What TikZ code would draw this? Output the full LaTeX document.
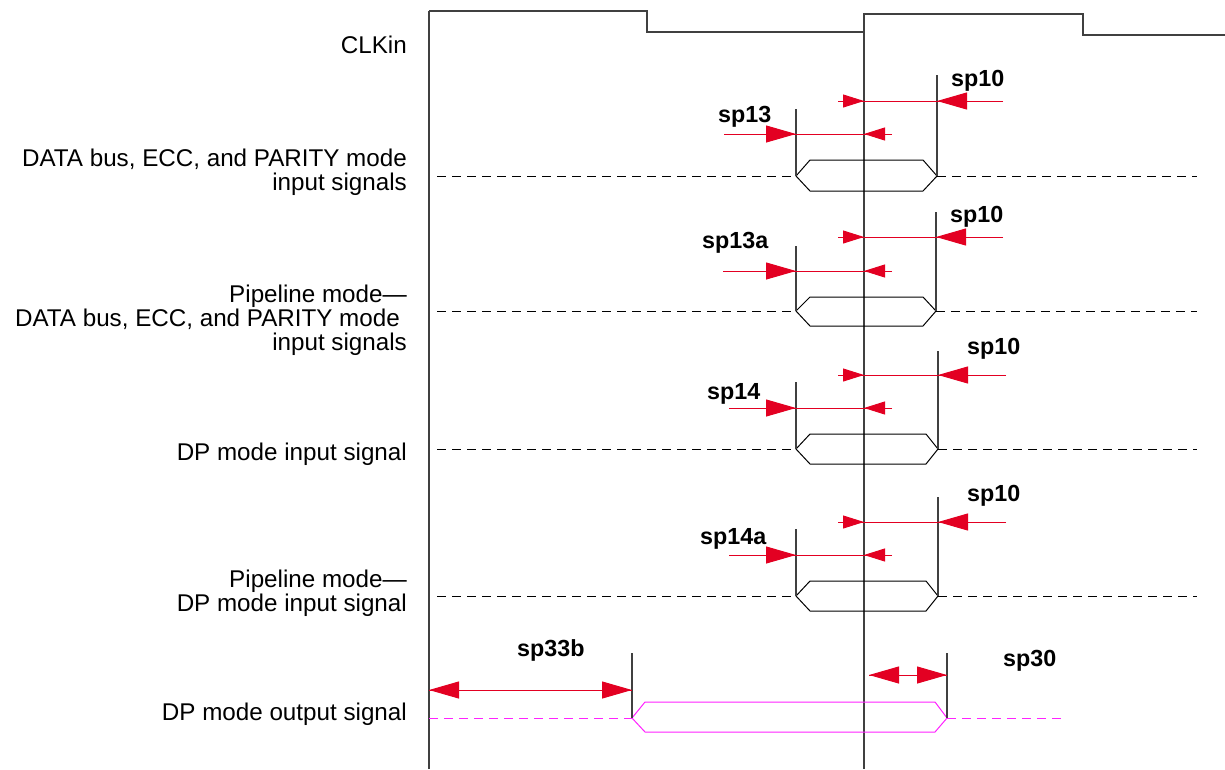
\documentclass[tikz,border=0pt]{standalone}
\usepackage{fontspec}
\setmainfont{Liberation Sans}
\usetikzlibrary{arrows.meta}
\definecolor{arrred}{HTML}{E30022}
\definecolor{busmag}{HTML}{FF22FF}
\definecolor{wire}{gray}{0.25}
\tikzset{
  wirestyle/.style={draw=wire, line width=1.1pt},
  guide/.style={draw=wire, line width=1.3pt},
  busline/.style={draw=black, line width=1pt, line join=miter},
  magbus/.style={draw=busmag, line width=1pt, line join=miter},
  dashblack/.style={draw=black, line width=0.9pt, dash pattern=on 9pt off 6pt},
  dashmag/.style={draw=busmag, line width=0.9pt, dash pattern=on 9pt off 6pt},
  redln/.style={draw=arrred, line width=1pt},
  bighead/.style={redln, -{Triangle[length=30pt,width=17pt,fill=arrred]}},
  smallhead/.style={redln, -{Triangle[length=21pt,width=13pt,fill=arrred]}},
  rowlabel/.style={anchor=base east, inner sep=0pt, font=\fontsize{24.2}{24}\selectfont},
  splabel/.style={anchor=base west, inner sep=0pt, font=\fontsize{23.3}{24}\selectfont\bfseries},
}
\begin{document}
\begin{tikzpicture}[x=1pt,y=-1pt]
\useasboundingbox (0,0) rectangle (1225,769);
\fill[white] (0,0) rectangle (1225,769);

% ---------- clock ----------
\coordinate (c0) at (429,769);
\coordinate (c1) at (429,11);
\coordinate (c2) at (647,11);
\coordinate (c3) at (647,32);
\coordinate (c4) at (864,32);
\coordinate (c5) at (864,14);
\coordinate (c6) at (1083,14);
\coordinate (c7) at (1083,35);
\coordinate (c8) at (1225,35);
\coordinate (cb) at (864,769);
\draw[guide] (c0) -- (c1);
\draw[wirestyle] (c1) -- (c2) -- (c3) -- (c4) -- (c5) -- (c6) -- (c7) -- (c8);
\draw[guide] (c5) -- (cb);

% ---------- row labels ----------
\node[rowlabel] (lclk) at (407,53) {CLKin};
\node[rowlabel] (l1a) at (407,166) {DATA bus, ECC, and PARITY mode};
\node[rowlabel] (l1b) at (407,190) {input signals};
\node[rowlabel] (l2a) at (407,302) {Pipeline mode—};
\node[rowlabel] (l2b) at (400,326) {DATA bus, ECC, and PARITY mode};
\node[rowlabel] (l2c) at (407,350) {input signals};
\node[rowlabel] (l3a) at (407,460) {DP mode input signal};
\node[rowlabel] (l4a) at (407,587) {Pipeline mode—};
\node[rowlabel] (l4b) at (407,611) {DP mode input signal};
\node[rowlabel] (l5a) at (407,720) {DP mode output signal};

% ---------- row 1 ----------
\draw[dashblack] (437,176) -- (796,176);
\draw[dashblack] (937,176) -- (1197,176);
\draw[busline] (796,176) -- (810,160) -- (923,160) -- (937,176) -- (923,191) -- (810,191) -- cycle;
\draw[wirestyle] (796,109) -- (796,176);
\draw[wirestyle] (937,75) -- (937,176);
\draw[redln] (838,101) -- (1003,101);
\draw[smallhead] (838,101) -- (864,101);
\draw[bighead] (1003,101) -- (937,101);
\draw[redln] (724,134) -- (892,134);
\draw[bighead] (724,134) -- (796,134);
\draw[smallhead] (892,134) -- (864,134);
\node[splabel] (s1a) at (951,86) {sp10};
\node[splabel] (s1b) at (718,122) {sp13};

% ---------- row 2 ----------
\draw[dashblack] (437,311) -- (796,311);
\draw[dashblack] (936,311) -- (1197,311);
\draw[busline] (796,311) -- (810,297) -- (923,297) -- (936,311) -- (923,326) -- (810,326) -- cycle;
\draw[wirestyle] (796,246) -- (796,311);
\draw[wirestyle] (936,212) -- (936,311);
\draw[redln] (838,237) -- (1003,237);
\draw[smallhead] (838,237) -- (864,237);
\draw[bighead] (1003,237) -- (936,237);
\draw[redln] (723,271) -- (892,271);
\draw[bighead] (723,271) -- (796,271);
\draw[smallhead] (892,271) -- (864,271);
\node[splabel] (s2a) at (950,222) {sp10};
\node[splabel] (s2b) at (702,248) {sp13a};

% ---------- row 3 ----------
\draw[dashblack] (437,449) -- (796,449);
\draw[dashblack] (938,449) -- (1197,449);
\draw[busline] (796,449) -- (810,434) -- (926,434) -- (938,449) -- (926,464) -- (810,464) -- cycle;
\draw[wirestyle] (796,382) -- (796,449);
\draw[wirestyle] (938,351) -- (938,449);
\draw[redln] (838,375) -- (1006,375);
\draw[smallhead] (838,375) -- (864,375);
\draw[bighead] (1006,375) -- (938,375);
\draw[redln] (729,408) -- (892,408);
\draw[bighead] (729,408) -- (796,408);
\draw[smallhead] (892,408) -- (864,408);
\node[splabel] (s3a) at (967,354) {sp10};
\node[splabel] (s3b) at (707,399) {sp14};

% ---------- row 4 ----------
\draw[dashblack] (437,596) -- (796,596);
\draw[dashblack] (938,596) -- (1197,596);
\draw[busline] (796,596) -- (810,581) -- (926,581) -- (938,596) -- (926,611) -- (810,611) -- cycle;
\draw[wirestyle] (796,529) -- (796,596);
\draw[wirestyle] (938,497) -- (938,596);
\draw[redln] (838,522) -- (1006,522);
\draw[smallhead] (838,522) -- (864,522);
\draw[bighead] (1006,522) -- (938,522);
\draw[redln] (729,555) -- (892,555);
\draw[bighead] (729,555) -- (796,555);
\draw[smallhead] (892,555) -- (864,555);
\node[splabel] (s4a) at (967,501) {sp10};
\node[splabel] (s4b) at (700,544) {sp14a};

% ---------- row 5 (output) ----------
\draw[dashmag] (429,718) -- (632,718);
\draw[dashmag] (947,718) -- (1066,718);
\draw[magbus] (632,718) -- (645,702) -- (935,702) -- (947,718) -- (935,732) -- (645,732) -- cycle;
\draw[wirestyle] (632,653) -- (632,718);
\draw[wirestyle] (947,653) -- (947,718);
\draw[redln] (429,690) -- (632,690);
\draw[bighead] (531,690) -- (429,690);
\draw[bighead] (531,690) -- (632,690);
\draw[redln] (869,675) -- (947,675);
\draw[bighead] (908,675) -- (869,675);
\draw[bighead] (908,675) -- (947,675);
\node[splabel] (s5a) at (517,656) {sp33b};
\node[splabel] (s5b) at (1003,666) {sp30};
\end{tikzpicture}
\end{document}
